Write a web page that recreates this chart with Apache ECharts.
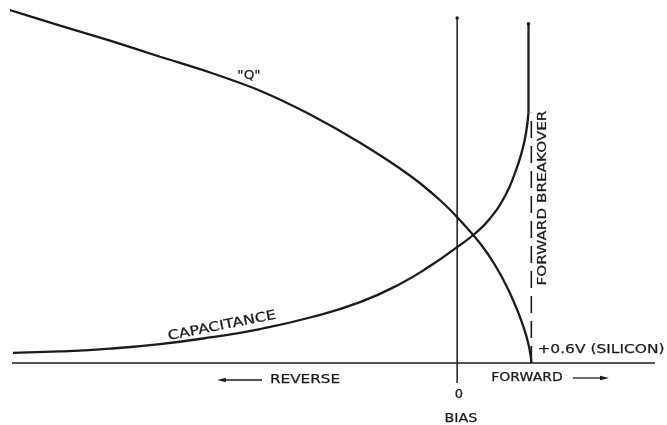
<!DOCTYPE html>
<html>
<head>
<meta charset="utf-8">
<script src="https://cdn.jsdelivr.net/npm/echarts@6/dist/echarts.min.js"></script>
<style>
  html, body { margin: 0; padding: 0; background: #fff; }
  #chart { width: 667px; height: 425px; }
</style>
</head>
<body>
<div id="chart"></div>
<script>
// Bias voltage (V) and relative "Q" of a varactor diode
const qBias   = [-3.632, -3.211, -2.807, -2.403, -1.998, -1.594, -1.189, -0.785, -0.38, -0.138, 0.023, 0.185, 0.306, 0.412, 0.492, 0.541, 0.573, 0.595, 0.6];
const qValues = [101.0, 96.4, 92.1, 87.5, 83.0, 77.8, 71.0, 62.9, 53.5, 46.5, 40.8, 34.2, 28.0, 21.1, 14.6, 9.8, 5.9, 2.0, 0];

// Bias voltage (V) and relative junction capacitance
const capBias   = [-3.592, -3.212, -2.807, -2.403, -1.998, -1.594, -1.19, -0.785, -0.462, -0.219, -0.009, 0.145, 0.266, 0.387, 0.468, 0.525, 0.557, 0.577];
const capValues = [2.9, 3.3, 4.1, 5.4, 7.3, 9.7, 13.0, 17.4, 22.6, 27.7, 32.9, 37.0, 41.3, 47.7, 54.3, 60.6, 65.7, 71.7];

// Capacitance runs straight up once forward breakover is reached
const capRiseBias   = [0.577, 0.577];
const capRiseValues = [71.7, 96.9];

// Forward breakover voltage for silicon
const breakoverBias   = [0.6, 0.6];
const breakoverValues = [0, 71.5];

// Bias axis and zero-bias axis
const biasAxisX = [-3.6, 1.6];
const biasAxisY = [0, 0];
const zeroAxisX = [0, 0];
const zeroAxisY = [-5.7, 98.6];

const ink = '#1b1b1b';
const pair = (xs, ys) => xs.map((x, i) => [x, ys[i]]);
// a small dot marks the top end of a vertical line
const tipped = (pts) => pts.map((p, i) => i === pts.length - 1
  ? { value: p, symbol: 'circle', symbolSize: 3.5, itemStyle: { color: ink } }
  : { value: p, symbol: 'none' });

const chart = echarts.init(document.getElementById('chart'), null, { renderer: 'canvas' });

const lineSeries = (data, width, extra) => Object.assign({
  type: 'line',
  data: data,
  showSymbol: false,
  symbol: 'none',
  clip: false,
  silent: true,
  animation: false,
  lineStyle: { color: ink, width: width }
}, extra || {});

const textStyle = (text, size) => ({
  text: text,
  fill: ink,
  stroke: ink,
  lineWidth: 0.25,
  font: 'normal ' + size + 'px "DejaVu Sans"',
  align: 'center',
  verticalAlign: 'middle'
});

chart.setOption({
  backgroundColor: '#ffffff',
  animation: false,
  grid: { left: 12, right: 12, top: 6, bottom: 41 },
  xAxis: { type: 'value', min: -3.6, max: 1.6, show: false },
  yAxis: { type: 'value', min: -6, max: 102, show: false },
  series: [
    lineSeries(pair(biasAxisX, biasAxisY), 1.5),
    lineSeries(tipped(pair(zeroAxisX, zeroAxisY)), 1.5, { showSymbol: true }),
    lineSeries(pair(breakoverBias, breakoverValues), 1.6, {
      lineStyle: { color: ink, width: 1.6, type: [17, 8] }
    }),
    lineSeries(pair(qBias, qValues), 2.3, { smooth: 0.3 }),
    lineSeries(pair(capBias, capValues), 2.3, { smooth: 0.5 }),
    lineSeries(tipped(pair(capRiseBias, capRiseValues)), 2.3, { showSymbol: true })
  ],
  graphic: [
    { type: 'text', x: 249, y: 76, scaleX: 1.05, style: textStyle('"Q"', 13) },
    { type: 'text', x: 222, y: 326, rotation: 0.197, scaleX: 1.23, style: textStyle('CAPACITANCE', 13) },
    { type: 'text', x: 543, y: 198, rotation: Math.PI / 2, scaleX: 1.17, style: textStyle('FORWARD BREAKOVER', 13) },
    { type: 'text', x: 601, y: 350, scaleX: 1.19, style: textStyle('+0.6V (SILICON)', 13) },
    { type: 'text', x: 305, y: 380, scaleX: 1.17, style: textStyle('REVERSE', 13) },
    { type: 'text', x: 527, y: 378, scaleX: 1.08, style: textStyle('FORWARD', 13) },
    { type: 'text', x: 459, y: 395, style: textStyle('0', 13) },
    { type: 'text', x: 461, y: 419, scaleX: 1.1, style: textStyle('BIAS', 13) },
    // direction arrows under the bias axis
    { type: 'line', shape: { x1: 224, y1: 380, x2: 262, y2: 380 }, style: { stroke: ink, lineWidth: 1.3 } },
    { type: 'polygon', shape: { points: [[217, 380], [226, 377.8], [226, 382.2]] }, style: { fill: ink } },
    { type: 'line', shape: { x1: 573, y1: 378, x2: 602, y2: 378 }, style: { stroke: ink, lineWidth: 1.3 } },
    { type: 'polygon', shape: { points: [[609, 378], [600, 375.8], [600, 380.2]] }, style: { fill: ink } }
  ]
});
</script>
</body>
</html>
